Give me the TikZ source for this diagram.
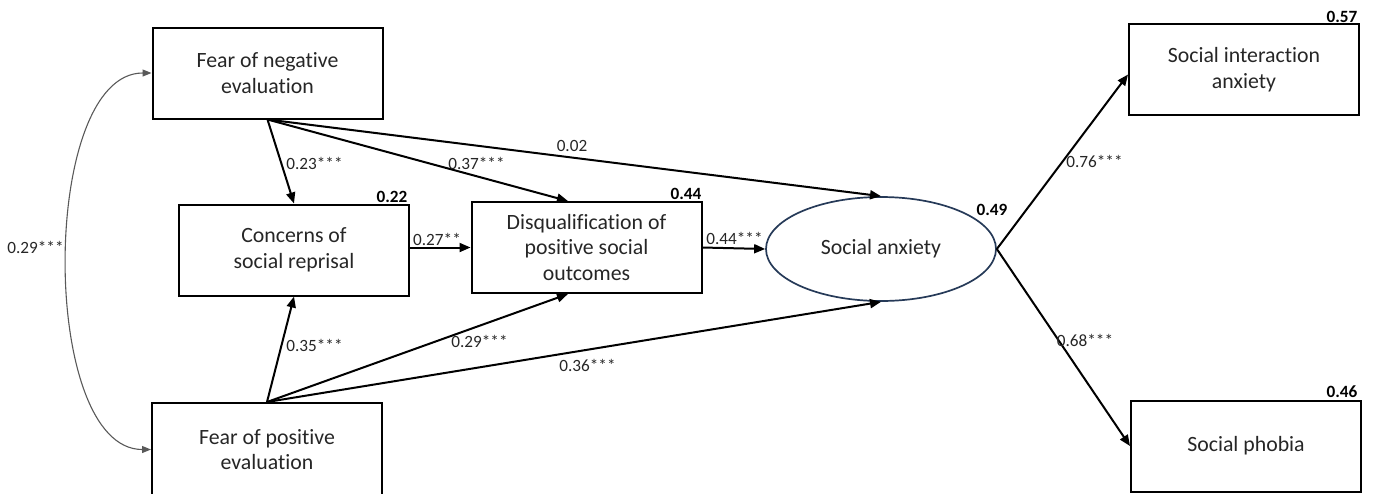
\documentclass[tikz,border=0pt]{standalone}
\usepackage{fontspec}
\setmainfont{Carlito}[Ligatures=NoCommon]
\usetikzlibrary{arrows.meta,shapes.geometric,calc}
\definecolor{ellcol}{RGB}{38,58,88}
\begin{document}
\begin{tikzpicture}[x=0.5pt,y=-0.5pt,
  box/.style={draw,line width=1pt,minimum width=115pt,minimum height=45.5pt,inner sep=0pt,align=center,
    font=\fontsize{10.9}{12.8}\selectfont,text=black!85},
  lab/.style={inner sep=0pt,text=black!85,font=\fontsize{8.6}{10}\selectfont},
  rsq/.style={inner sep=0pt,font=\fontsize{8.6}{10}\selectfont\bfseries},
  arr/.style={line width=1pt,-{Triangle[length=5.5pt,width=4.5pt]}},
  cov/.style={line width=0.55pt,draw=black!65,{Triangle[length=4.5pt,width=3.5pt]}-{Triangle[length=4.5pt,width=3.5pt]}}
]
\useasboundingbox (0,0) rectangle (1375,493);
% boxes
\node[box] (fne) at (267.5,73) {Fear of negative\\evaluation};
\node[box] (conc) at (294,250) {Concerns of\\social reprisal};
\node[box] (disq) at (586.5,247.5) {Disqualification of\\positive social\\outcomes};
\node[box,minimum height=46.5pt] (fpe) at (267,449.5) {Fear of positive\\evaluation};
\node[box] (sia) at (1244,69.5) {Social interaction\\anxiety};
\node[box] (sp) at (1246,446) {Social phobia};
\node[ellipse,draw=ellcol,line width=0.85pt,minimum width=115pt,minimum height=52pt,inner sep=0pt,
  text=black!85,font=\fontsize{10.9}{12.8}\selectfont] (sa) at (881,249) {Social anxiety};
% connectors
\draw[arr] (fne.south) -- (conc.north);
\draw[arr] (fne.south) -- ($(disq.north west)!0.42!(disq.north east)$);
\draw[arr] (fne.south) -- (sa.north);
\draw[arr] (fpe.north) -- (conc.south);
\draw[arr] (fpe.north) -- ($(disq.south west)!0.42!(disq.south east)$);
\draw[arr] (fpe.north) -- (sa.south);
\draw[arr] (conc.east |- disq.west) -- (disq.west);
\draw[arr] (disq.east) -- (sa.west);
\draw[arr] (sa.east) -- ($(sia.west)+(0,5)$);
\draw[arr] (sa.east) -- (sp.west);
\draw[cov] (fne.west) .. controls +(-112,0) and +(-112,0) .. (fpe.west);
% path labels
\node[lab] (l23) at (314.5,163) {0.23***};
\node[lab] (l35) at (314.5,345) {0.35***};
\node[lab] (l37) at (476.5,163) {0.37***};
\node[lab] (l02) at (572,146) {0.02};
\node[lab] (l27) at (437,239) {0.27**};
\node[lab] (l44) at (734.5,238) {0.44***};
\node[lab] (l29m) at (479.5,341) {0.29***};
\node[lab] (l36) at (587.5,365) {0.36***};
\node[lab] (l29) at (35.5,247.5) {0.29***};
\node[lab] (l76) at (1094.5,161) {0.76***};
\node[lab] (l68) at (1085,340) {0.68***};
% R squared
\node[rsq] (r22) at (392,197) {0.22};
\node[rsq] (r44) at (686,194) {0.44};
\node[rsq] (r49) at (992,210) {0.49};
\node[rsq] (r57) at (1342,17) {0.57};
\node[rsq] (r46) at (1342,392) {0.46};
\end{tikzpicture}
\end{document}
